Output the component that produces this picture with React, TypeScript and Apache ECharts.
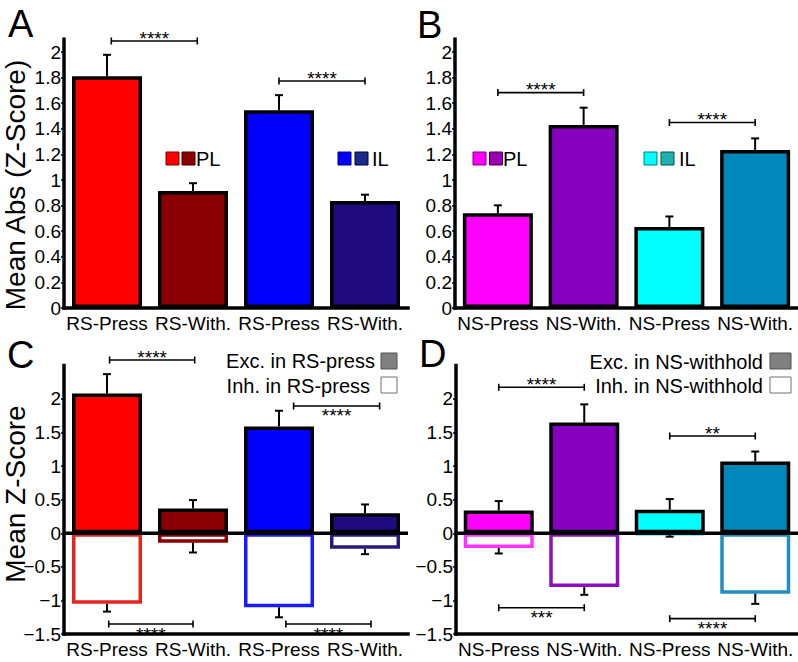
import React, { useEffect, useRef } from "react";
import * as echarts from "echarts";

// ---------- data ----------
const catsRS = ["RS-Press", "RS-With.", "RS-Press", "RS-With."];
const catsNS = ["NS-Press", "NS-With.", "NS-Press", "NS-With."];

// Panel A: mean abs z-score (RS)
const absRSMean = [1.81, 0.915, 1.545, 0.835];
const absRSErr = [0.168, 0.06, 0.118, 0.05];
// Panel B: mean abs z-score (NS)
const absNSMean = [0.74, 1.43, 0.632, 1.235];
const absNSErr = [0.062, 0.135, 0.083, 0.09];

// Panel C: excitatory / inhibitory in RS-press
const excRSMean = [2.08, 0.37, 1.59, 0.3];
const excRSErr = [0.29, 0.125, 0.235, 0.13];
const inhRSMean = [-1.05, -0.14, -1.1, -0.23];
const inhRSErr = [0.115, 0.145, 0.15, 0.08];

// Panel D: excitatory / inhibitory in NS-withhold
const excNSMean = [0.34, 1.65, 0.35, 1.07];
const excNSErr = [0.14, 0.27, 0.16, 0.148];
const inhNSMean = [-0.22, -0.8, -0.02, -0.9];
const inhNSErr = [0.08, 0.115, 0.03, 0.15];

// significance brackets: [from category, to category, y value]
const sigA = [[0.05, 1.05, 2.086], [2, 3, 1.774]];
const sigALabels = ["****", "****"];
const sigASides = ["above", "above"];
const sigB = [[0, 1, 1.683], [2, 3, 1.449]];
const sigBLabels = ["****", "****"];
const sigBSides = ["above", "above"];
const sigC = [[0.03, 1.02, 2.58], [2.17, 3.17, 1.896], [0.02, 1.0, -1.35], [2.08, 3.07, -1.35]];
const sigCLabels = ["****", "****", "****", "****"];
const sigCSides = ["above", "below", "below", "below"];
const sigD = [[0, 1, 2.174], [2, 3, 1.449], [0, 1, -1.107], [2, 3, -1.27]];
const sigDLabels = ["****", "**", "***", "****"];
const sigDSides = ["above", "above", "below", "below"];

// y axis ranges
const absAxis = [0, 2.1, 0.2];
const zAxis = [-1.5, 2.5, 0.5];

// colours
const colA = ["#ff0000", "#8b0000", "#0000ff", "#1f0a80"];
const colB = ["#ff00ff", "#8800bf", "#00ffff", "#0088bb"];
const colC = ["#ff0000", "#8b0000", "#0000ff", "#1f0a80"];
const inhColC = ["#e52421", "#8b0000", "#1a1aff", "#2a1a80"];
const colD = ["#ff00ff", "#8800bf", "#00ffff", "#0088bb"];
const inhColD = ["#ff33ff", "#8a10c0", "#33ffff", "#1f8fc0"];

const FONT = '"Liberation Sans", Arial, Helvetica, sans-serif';
const LBL = 19;
const LEG = 20;

function fmt(v: number) {
  const s = String(Number(v.toFixed(2)));
  return s.replace("-", "\u2212");
}

type PanelSpec = {
  gi: number;
  grid: { left: number; top: number; width: number; height: number };
  cats: string[];
  exc: number[];
  excErr: number[];
  excCol: string[];
  inh?: number[];
  inhErr?: number[];
  inhCol?: string[];
  axis: number[];
  sig: number[][];
  sigLabels: string[];
  sigSides: string[];
};

function buildPanel(p: PanelSpec) {
  const catX = p.gi * 2;
  const valX = p.gi * 2 + 1;
  const xAxes: any[] = [
    {
      type: "category",
      gridIndex: p.gi,
      data: p.cats,
      position: "bottom",
      z: 6,
      axisLine: { onZero: false, lineStyle: { color: "#000", width: 3.5, cap: "square" } },
      axisTick: { show: false },
      axisLabel: { color: "#000", fontSize: LBL, fontFamily: FONT, margin: 6, interval: 0 },
      splitLine: { show: false },
    },
    { type: "value", gridIndex: p.gi, min: -0.5, max: 3.5, show: false },
  ];
  const yAxis: any = {
    type: "value",
    gridIndex: p.gi,
    min: p.axis[0],
    max: p.axis[1],
    interval: p.axis[2],
    z: 6,
    axisLine: { show: true, onZero: false, lineStyle: { color: "#000", width: 3.5, cap: "square" } },
    axisTick: { show: true, inside: false, length: 3, lineStyle: { color: "#000", width: 1.5 } },
    splitLine: { show: false },
    axisLabel: {
      color: "#000",
      fontSize: LBL,
      fontFamily: FONT,
      margin: 3,
      showMaxLabel: false,
      formatter: (v: number) => fmt(v),
    },
  };
  const series: any[] = [];
  series.push({
    type: "bar",
    xAxisIndex: catX,
    yAxisIndex: p.gi,
    barWidth: 70,
    barGap: "-100%",
    z: 2,
    data: p.exc.map((v, i) => ({
      value: v,
      itemStyle: { color: p.excCol[i], borderColor: "#000", borderWidth: 3.5 },
    })),
  });
  const errData: number[][] = p.exc.map((v, i) => [i, v, v + p.excErr[i]]);
  if (p.inh && p.inhErr && p.inhCol) {
    const inhCol = p.inhCol;
    series.push({
      type: "bar",
      xAxisIndex: catX,
      yAxisIndex: p.gi,
      barWidth: 70,
      barGap: "-100%",
      z: 3,
      data: p.inh.map((v, i) => ({
        value: v,
        itemStyle: { color: "#fff", borderColor: inhCol[i], borderWidth: 3.5 },
      })),
    });
    p.inh.forEach((v, i) => errData.push([i, v, v - (p.inhErr as number[])[i]]));
    // zero line
    series.push({
      type: "custom",
      xAxisIndex: valX,
      yAxisIndex: p.gi,
      z: 5,
      silent: true,
      data: [[0, 0]],
      renderItem: (params: any, api: any) => {
        const a = api.coord([-0.5, 0]);
        const b = api.coord([3.5, 0]);
        return {
          type: "line",
          shape: { x1: a[0], y1: a[1], x2: b[0], y2: b[1] },
          style: { stroke: "#000", lineWidth: 3.5 },
        };
      },
    });
  }
  series.push({
    type: "custom",
    xAxisIndex: valX,
    yAxisIndex: p.gi,
    z: 4,
    silent: true,
    data: errData,
    renderItem: (params: any, api: any) => {
      const x = api.value(0);
      const v = api.value(1);
      const e = api.value(2);
      const p0 = api.coord([x, v]);
      const p1 = api.coord([x, e]);
      return {
        type: "group",
        children: [
          { type: "line", shape: { x1: p0[0], y1: p0[1], x2: p1[0], y2: p1[1] }, style: { stroke: "#000", lineWidth: 2 } },
          { type: "line", shape: { x1: p1[0] - 4, y1: p1[1], x2: p1[0] + 4, y2: p1[1] }, style: { stroke: "#000", lineWidth: 2 } },
        ],
      };
    },
  });
  const sigLabels = p.sigLabels;
  const sigSides = p.sigSides;
  series.push({
    type: "custom",
    xAxisIndex: valX,
    yAxisIndex: p.gi,
    z: 4,
    silent: true,
    clip: false,
    data: p.sig,
    renderItem: (params: any, api: any) => {
      const x1 = api.value(0);
      const x2 = api.value(1);
      const y = api.value(2);
      const a = api.coord([x1, y]);
      const b = api.coord([x2, y]);
      const above = sigSides[params.dataIndex] === "above";
      const ty = above ? a[1] - 2.6 : a[1] + 10;
      return {
        type: "group",
        children: [
          { type: "line", shape: { x1: a[0], y1: a[1], x2: b[0], y2: b[1] }, style: { stroke: "#000", lineWidth: 1.6 } },
          { type: "line", shape: { x1: a[0], y1: a[1] - 3.5, x2: a[0], y2: a[1] + 3.5 }, style: { stroke: "#000", lineWidth: 1.6 } },
          { type: "line", shape: { x1: b[0], y1: b[1] - 3.5, x2: b[0], y2: b[1] + 3.5 }, style: { stroke: "#000", lineWidth: 1.6 } },
          {
            type: "text",
            style: {
              text: sigLabels[params.dataIndex],
              x: (a[0] + b[0]) / 2,
              y: ty,
              align: "center",
              verticalAlign: "middle",
              fill: "#000",
              fontSize: 19,
              fontFamily: FONT,
            },
          },
        ],
      };
    },
  });
  return { grid: p.grid, xAxes, yAxis, series };
}

function txt(text: string, x: number, y: number, size: number, align = "left", rotation = 0) {
  return {
    type: "text",
    x,
    y,
    rotation,
    z: 10,
    style: { text, x: 0, y: 0, fill: "#000", fontSize: size, fontFamily: FONT, align, verticalAlign: "middle" },
  };
}
function sq(x: number, y: number, w: number, h: number, fill: string, stroke: string) {
  return { type: "rect", z: 10, shape: { x, y, width: w, height: h }, style: { fill, stroke, lineWidth: 1 } };
}

export default function App() {
  const ref = useRef<HTMLDivElement>(null);
  useEffect(() => {
    if (!ref.current) return;
    const chart = echarts.init(ref.current, null, { renderer: "svg" });
    const panels = [
      buildPanel({
        gi: 0,
        grid: { left: 64, top: 39.2, width: 344, height: 268.8 },
        cats: catsRS, exc: absRSMean, excErr: absRSErr, excCol: colA,
        axis: absAxis, sig: sigA, sigLabels: sigALabels, sigSides: sigASides,
      }),
      buildPanel({
        gi: 1,
        grid: { left: 455, top: 39.2, width: 344, height: 268.8 },
        cats: catsNS, exc: absNSMean, excErr: absNSErr, excCol: colB,
        axis: absAxis, sig: sigB, sigLabels: sigBLabels, sigSides: sigBSides,
      }),
      buildPanel({
        gi: 2,
        grid: { left: 64, top: 365.4, width: 344, height: 268.7 },
        cats: catsRS, exc: excRSMean, excErr: excRSErr, excCol: colC,
        inh: inhRSMean, inhErr: inhRSErr, inhCol: inhColC,
        axis: zAxis, sig: sigC, sigLabels: sigCLabels, sigSides: sigCSides,
      }),
      buildPanel({
        gi: 3,
        grid: { left: 456, top: 365.4, width: 344, height: 268.7 },
        cats: catsNS, exc: excNSMean, excErr: excNSErr, excCol: colD,
        inh: inhNSMean, inhErr: inhNSErr, inhCol: inhColD,
        axis: zAxis, sig: sigD, sigLabels: sigDLabels, sigSides: sigDSides,
      }),
    ];
    const graphic: any[] = [
      txt("A", 8, 23.5, 38),
      txt("B", 417, 25, 38),
      txt("C", 7, 355, 38),
      txt("D", 419, 354, 38),
      txt("Mean Abs (Z-Score)", 15, 185, 28, "center", Math.PI / 2),
      txt("Mean Z-Score", 15, 494, 28, "center", Math.PI / 2),
      // legend A
      sq(166, 152, 13, 13, "#ff0000", "#7a0000"),
      sq(182, 152, 13, 13, "#8b0000", "#400000"),
      txt("PL", 196, 158.5, LEG),
      sq(338, 152, 13, 13, "#0000ff", "#00007a"),
      sq(355, 152, 13, 13, "#1a2a8c", "#000040"),
      txt("IL", 372, 158.5, LEG),
      // legend B
      sq(473, 152, 13, 13, "#ff00ff", "#7a007a"),
      sq(489.5, 152, 13, 13, "#9a00b0", "#400050"),
      txt("PL", 503, 158.5, LEG),
      sq(644, 152, 13, 13, "#00ffff", "#007a7a"),
      sq(661, 152, 13, 13, "#1fb0b0", "#005050"),
      txt("IL", 679, 158.5, LEG),
      // legend C
      txt("Exc. in RS-press", 375, 361, LEG, "right"),
      sq(381, 353, 16, 16, "#808080", "#505050"),
      txt("Inh. in RS-press", 370, 385.5, LEG, "right"),
      sq(381, 377, 16, 16, "#ffffff", "#707070"),
      // legend D
      txt("Exc. in NS-withhold", 763, 361.5, LEG, "right"),
      sq(770, 353, 21, 16, "#808080", "#505050"),
      txt("Inh. in NS-withhold", 763, 385.5, LEG, "right"),
      sq(770, 377, 21, 16, "#ffffff", "#707070"),
    ];
    chart.setOption({
      animation: false,
      backgroundColor: "#fff",
      textStyle: { fontFamily: FONT },
      grid: panels.map((p) => p.grid),
      xAxis: panels.flatMap((p) => p.xAxes),
      yAxis: panels.map((p) => p.yAxis),
      series: panels.flatMap((p) => p.series),
      graphic,
    });
    return () => chart.dispose();
  }, []);
  return (
    <div
      ref={ref}
      style={{ position: "fixed", left: 0, top: 0, width: 798, height: 662, background: "#fff" }}
    />
  );
}
